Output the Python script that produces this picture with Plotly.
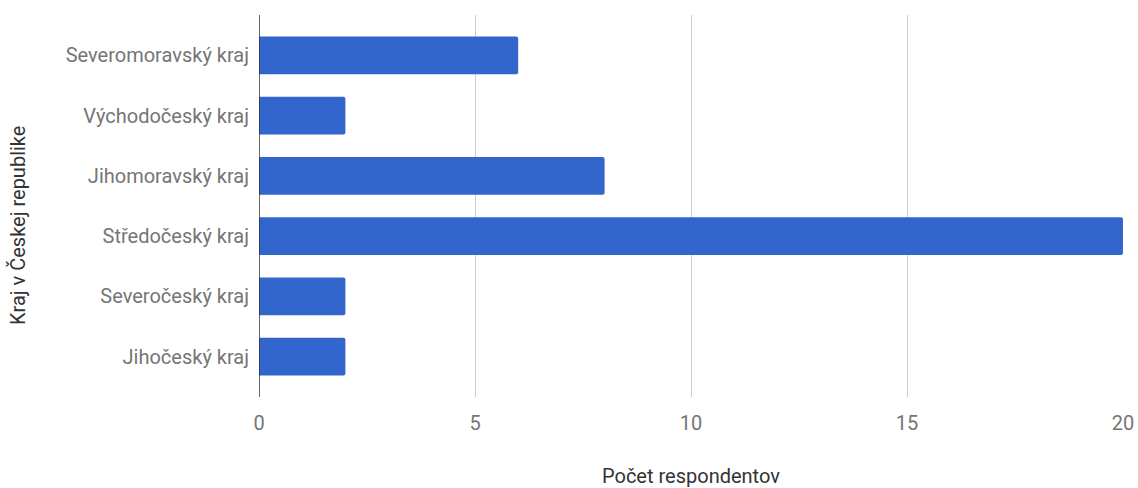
import plotly.graph_objects as go

# Respondents by region
regions = [
    "Severomoravský kraj",
    "Východočeský kraj",
    "Jihomoravský kraj",
    "Středočeský kraj",
    "Severočeský kraj",
    "Jihočeský kraj",
]
counts = [6, 2, 8, 20, 2, 2]
x_ticks = [0, 5, 10, 15, 20]

BAR_COLOR = "#3366CC"
TICK_COLOR = "#757575"
TITLE_COLOR = "#333333"
FONT = "Roboto, Arial, sans-serif"
FONT_SIZE = 20

fig = go.Figure(
    go.Bar(
        x=counts,
        y=regions,
        orientation="h",
        marker=dict(color=BAR_COLOR, line=dict(width=0)),
        width=0.63,
        hoverinfo="x+y",
    )
)

fig.update_layout(
    width=1138,
    height=488,
    margin=dict(l=259, r=15, t=15, b=91, autoexpand=False),
    paper_bgcolor="white",
    plot_bgcolor="white",
    showlegend=False,
    barcornerradius=2,
    font=dict(family=FONT, size=FONT_SIZE, color=TICK_COLOR),
)

fig.update_xaxes(
    range=[0, 20],
    tickvals=x_ticks,
    ticktext=[str(v) for v in x_ticks],
    showgrid=True,
    gridcolor="#CCCCCC",
    gridwidth=1,
    zeroline=False,
    showline=False,
    ticks="",
    automargin=False,
    ticklabelstandoff=12,
    tickfont=dict(family=FONT, size=FONT_SIZE, color=TICK_COLOR),
)

fig.update_yaxes(
    categoryorder="array",
    categoryarray=regions,
    range=[5.67, -0.67],
    showgrid=False,
    zeroline=False,
    showline=False,
    ticks="",
    automargin=False,
    ticklabelstandoff=9,
    tickfont=dict(family=FONT, size=FONT_SIZE, color=TICK_COLOR),
)

# Baseline at zero
fig.add_shape(
    type="line", xref="x", yref="paper",
    x0=0, x1=0, y0=0, y1=1,
    line=dict(color="#333333", width=1.5),
)

# Axis titles
fig.add_annotation(
    text="Počet respondentov",
    xref="paper", yref="paper",
    x=0.5, y=0, yshift=-79,
    showarrow=False,
    xanchor="center", yanchor="middle",
    font=dict(family=FONT, size=FONT_SIZE, color=TITLE_COLOR),
)
fig.add_annotation(
    text="Kraj v Českej republike",
    xref="paper", yref="paper",
    x=0, xshift=-241,
    y=0.5, yshift=-20,
    textangle=-90,
    showarrow=False,
    xanchor="center", yanchor="middle",
    font=dict(family=FONT, size=FONT_SIZE, color=TITLE_COLOR),
)

fig.write_html("out.html")
